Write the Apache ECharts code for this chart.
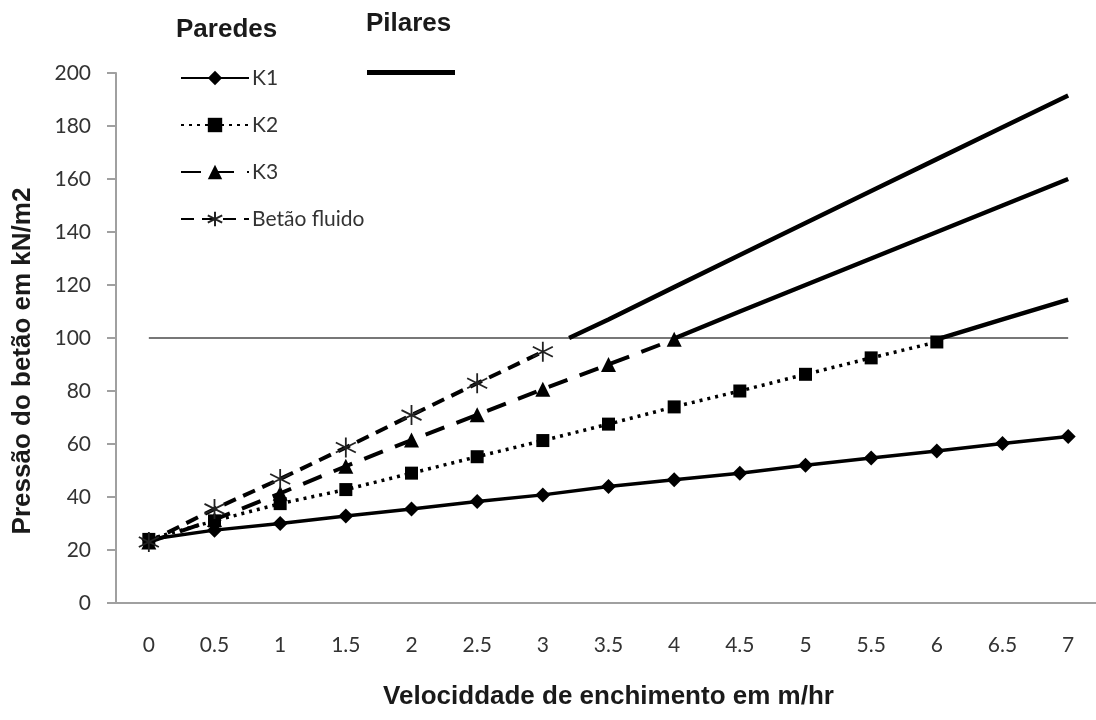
<!DOCTYPE html>
<html>
<head>
<meta charset="utf-8">
<script src="https://cdn.jsdelivr.net/npm/echarts@6/dist/echarts.min.js"></script>
<style>
  html, body { margin: 0; padding: 0; background: #fff; }
  #chart { width: 1096px; height: 720px; }
</style>
</head>
<body>
<div id="chart"></div>
<script>
// ---- data ----
const velocities = ['0', '0.5', '1', '1.5', '2', '2.5', '3', '3.5', '4', '4.5', '5', '5.5', '6', '6.5', '7'];
const k1 = [24, 27.5, 30, 32.8, 35.5, 38.3, 40.8, 44, 46.5, 49, 52, 54.7, 57.4, 60.2, 62.8];
const k2 = [24, 31, 37.5, 42.8, 49, 55.2, 61.3, 67.5, 74, 80, 86.3, 92.5, 98.5, null, null];
const k3 = [23, 31.5, 41.4, 51.6, 61.5, 71, 80.7, 90, 99.5, null, null, null, null, null, null];
const betao = [23, 35.5, 46.8, 58.7, 70.9, 82.9, 94.8, null, null, null, null, null, null, null, null];
// Pilares lines: [velocity, pressure]
const pilarBetao = [[3.2, 100], [3.5, 107], [4, 119.2], [4.5, 131.3], [5, 143.4], [5.5, 155.5], [6, 167.5], [6.5, 179.5], [7, 191.5]];
const pilarK3 = [[4, 99.8], [4.5, 110], [5, 120], [5.5, 130], [6, 140], [6.5, 150], [7, 160]];
const pilarK2 = [[6, 99.5], [6.5, 107], [7, 114.5]];
const limitLine = [[0, 100], [7, 100]];
const yTicks = { min: 0, max: 200, interval: 20 };

const labelFont = 'Lato, "Open Sans", sans-serif';
const boldFont = '"Liberation Sans", Arial, sans-serif';
const asterisk = 'path://M10 0 L10 20 M1.3 5 L18.7 15 M1.3 15 L18.7 5';

const chart = echarts.init(document.getElementById('chart'), null, { renderer: 'canvas' });
chart.setOption({
  backgroundColor: '#ffffff',
  animation: false,
  title: [
    { text: 'Paredes', left: 171, top: 12, textStyle: { fontFamily: boldFont, fontWeight: 'bold', fontSize: 26, color: '#1a1a1a' } },
    { text: 'Pilares', left: 361, top: 6, textStyle: { fontFamily: boldFont, fontWeight: 'bold', fontSize: 26, color: '#1a1a1a' } }
  ],
  legend: [
    {
      data: ['K1', 'K2', 'K3', 'Betão fluido'],
      orient: 'vertical',
      left: 175,
      top: 61,
      itemWidth: 68,
      itemHeight: 18,
      itemGap: 23,
      textStyle: { fontFamily: labelFont, fontSize: 21, color: '#333', lineHeight: 24, padding: [0, 0, 0, -2] }
    },
    {
      data: [{ name: 'Pilares', icon: 'rect' }],
      left: 362,
      top: 65,
      itemWidth: 88,
      itemHeight: 5,
      formatter: function () { return ''; },
      textStyle: { fontSize: 1 }
    }
  ],
  grid: { left: 116, right: -5, top: 73, bottom: 117, containLabel: false, outerBoundsMode: 'none' },
  xAxis: [
    {
      type: 'category',
      data: velocities,
      boundaryGap: true,
      name: 'Velociddade de enchimento em m/hr',
      nameLocation: 'middle',
      nameGap: 81,
      nameTextStyle: { fontFamily: boldFont, fontWeight: 'bold', fontSize: 26, color: '#1a1a1a' },
      axisLine: { onZero: false, lineStyle: { color: '#a0a0a0', width: 2 } },
      axisTick: { show: false },
      axisLabel: { fontFamily: labelFont, fontSize: 21, color: '#333', margin: 32 },
      splitLine: { show: false }
    },
    {
      type: 'value',
      min: -0.25,
      max: 7.25,
      show: false
    }
  ],
  yAxis: {
    type: 'value',
    min: yTicks.min,
    max: yTicks.max,
    interval: yTicks.interval,
    name: 'Pressão do betão em kN/m2',
    nameLocation: 'middle',
    nameGap: 80,
    nameTextStyle: { fontFamily: boldFont, fontWeight: 'bold', fontSize: 26, color: '#1a1a1a', padding: [0, 0, 0, -46] },
    axisLine: { show: true, onZero: false, lineStyle: { color: '#a0a0a0', width: 2 } },
    axisTick: { show: true, length: 9, lineStyle: { color: '#a0a0a0', width: 2 } },
    axisLabel: { fontFamily: labelFont, fontSize: 21, color: '#333', margin: 25 },
    splitLine: { show: false }
  },
  series: [
    {
      name: 'limit', type: 'line', xAxisIndex: 1, data: limitLine,
      symbol: 'none', lineStyle: { color: '#777', width: 2 }, silent: true, z: 1
    },
    {
      name: 'Pilares', type: 'line', xAxisIndex: 1, data: pilarBetao,
      symbol: 'none', lineStyle: { color: '#000', width: 4.5 }, itemStyle: { color: '#000' }, z: 3
    },
    {
      name: 'Pilares', type: 'line', xAxisIndex: 1, data: pilarK3,
      symbol: 'none', lineStyle: { color: '#000', width: 4.5 }, itemStyle: { color: '#000' }, z: 3
    },
    {
      name: 'Pilares', type: 'line', xAxisIndex: 1, data: pilarK2,
      symbol: 'none', lineStyle: { color: '#000', width: 4.5 }, itemStyle: { color: '#000' }, z: 3
    },
    {
      name: 'K1', type: 'line', data: k1,
      symbol: 'diamond', symbolSize: 15,
      lineStyle: { color: '#000', width: 3.5 }, itemStyle: { color: '#000' }, z: 4
    },
    {
      name: 'K2', type: 'line', data: k2,
      symbol: 'rect', symbolSize: 13,
      lineStyle: { color: '#000', width: 3.5, type: [3, 5] }, itemStyle: { color: '#000' }, z: 4
    },
    {
      name: 'K3', type: 'line', data: k3,
      symbol: 'triangle', symbolSize: 15,
      lineStyle: { color: '#000', width: 4, type: [20, 13] }, itemStyle: { color: '#000' }, z: 4
    },
    {
      name: 'Betão fluido', type: 'line', data: betao,
      symbol: asterisk, symbolSize: 20,
      lineStyle: { color: '#000', width: 4, type: [13, 8] },
      itemStyle: { color: 'rgba(0,0,0,0)', borderColor: '#222', borderWidth: 1.8 }, z: 4
    }
  ]
});
</script>
</body>
</html>
